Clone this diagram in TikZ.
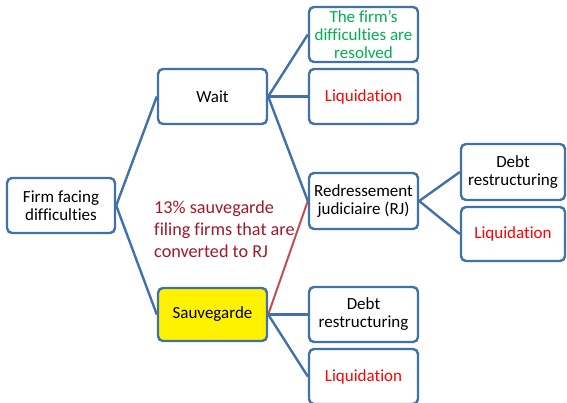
\documentclass[tikz,border=0pt]{standalone}
\usepackage{fontspec}
\setmainfont[Ligatures=NoCommon]{Carlito}
\begin{document}
\begin{tikzpicture}[x=1pt,y=-1pt,
  box/.style={draw=boxblue, line width=2.4pt, rounded corners=5pt, fill=white,
    minimum width=109pt, minimum height=55pt, inner sep=1pt, align=center,
    font=\fontsize{17}{18}\selectfont, text=black},
  conn/.style={draw=boxblue, line width=2.4pt},
  red conn/.style={draw=linkred, line width=2pt}]
\definecolor{boxblue}{RGB}{65,113,170}
\definecolor{linkred}{RGB}{192,80,77}
\definecolor{okgreen}{RGB}{0,176,80}
\definecolor{maroon}{RGB}{160,25,40}
\useasboundingbox (0,0) rectangle (567,402);
\node[box, minimum width=108pt] (firm) at (61,205.5) {Firm facing\\difficulties};
\node[box] (wait) at (212.5,96.5) {Wait};
\node[box, fill=yellow, minimum height=53pt] (sauv) at (212.5,314.5) {Sauvegarde};
\node[box, text=okgreen] (res) at (363.5,34.5) {The firm’s\\difficulties are\\resolved};
\node[box, text=red] (liqa) at (363.5,96.5) {Liquidation};
\node[box, minimum height=56pt] (rj) at (363.5,201) {Redressement\\judiciaire (RJ)};
\node[box] (debtb) at (363.5,314.5) {Debt\\restructuring};
\node[box, text=red] (liqc) at (363.5,376.5) {Liquidation};
\node[box, minimum width=104pt, minimum height=56pt] (debta) at (513,172) {Debt\\restructuring};
\node[box, text=red, minimum width=104pt, minimum height=54pt] (liqb) at (513,234) {Liquidation};
\node[anchor=north west, align=left, text=maroon, inner sep=0pt,
  font=\fontsize{18.2}{22}\selectfont] (note) at (154,201)
  {13\% sauvegarde\\filing firms that are\\converted to RJ};
\draw[conn] (firm.east) -- (wait.west);
\draw[conn] (firm.east) -- (sauv.west);
\draw[conn] (wait.east) -- (res.west);
\draw[conn] (wait.east) -- (liqa.west);
\draw[conn] (wait.east) -- (rj.west);
\draw[red conn] (sauv.east) -- (rj.west);
\draw[conn] (sauv.east) -- (debtb.west);
\draw[conn] (sauv.east) -- (liqc.west);
\draw[conn] (rj.east) -- (debta.west);
\draw[conn] (rj.east) -- (liqb.west);
\end{tikzpicture}
\end{document}
